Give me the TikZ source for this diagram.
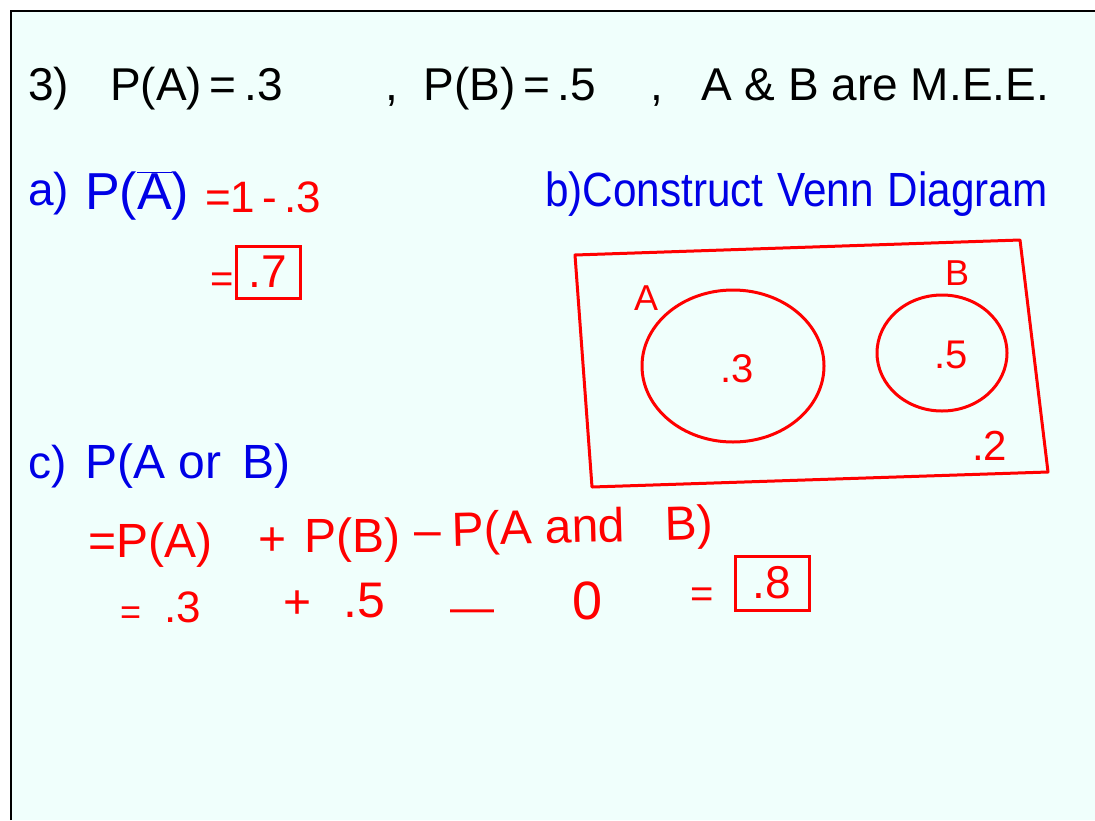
\documentclass[tikz,border=0pt]{standalone}
\usepackage{fontspec}
\setmainfont{Liberation Sans}
\begin{document}
\begin{tikzpicture}[x=1pt,y=-1pt,
  txt/.style={anchor=base west,inner sep=0pt,font=\fontsize{#1}{#1}\selectfont},
  blk/.style={txt=#1,text=black},
  blu/.style={txt=#1,text=penblue},
  rd/.style={txt=#1,text=inkred},
  redline/.style={draw=inkred,line width=3pt,line join=round,line cap=round},
  ansbox/.style={draw=inkred,line width=3pt,inner sep=4pt,text=inkred,font=\fontsize{46}{46}\selectfont,minimum width=64pt,minimum height=52pt}]
\definecolor{bg}{HTML}{F0FFFC}
\definecolor{inkred}{HTML}{FF0000}
\definecolor{penblue}{HTML}{0000E6}
\useasboundingbox (0,0) rectangle (1095,820);
\fill[white] (0,0) rectangle (1095,820);
\fill[bg] (11,11) rectangle (1095,820);
\draw[line width=2.5pt] (11,820) -- (11,11) -- (1095,11);
% title line
\node[blk=46] (t1) at (28,100) {3)};
\node[blk=46] (t2) at (110,100) {P(A)\,=\,.3};
\node[blk=46] (t3) at (385,100) {,\; P(B)\,=\,.5};
\node[blk=46] (t4) at (650,100) {,\;\; A \& B are M.E.E.};
% part a
\node[blu=46] (a1) at (28,205) {a)};
\node[blu=52] (a1b) at (85,209) {P($\overline{\hbox{A}}$)};
\node[rd=44] (a2) at (205,212) {=1\,-\,.3};
\node[rd=40] (a3) at (210,292) {=};
\node[ansbox] (a4) at (268,272) {.7};
% part b
\node[blu=48,xscale=0.88] (b1) at (545,206) {b)Construct\hspace{16pt}Venn\hspace{16pt}Diagram};
\draw[redline] (575,255) -- (1020,240) -- (1048,472) -- (592,487) -- cycle;
\draw[redline] (733,366) ellipse [x radius=91,y radius=76];
\draw[redline] (942,353) ellipse [x radius=65,y radius=58];
\node[rd=36] (bA) at (634,310) {A};
\node[rd=36] (bB) at (945,285) {B};
\node[rd=40] (b3) at (720,382) {.3};
\node[rd=40] (b5) at (934,368) {.5};
\node[rd=42] (b2) at (972,460) {.2};
% part c
\node[blu=46] (c0) at (28,478) {c)};
\node[blu=48] (c1) at (85,478) {P(A or\, B)};
\node[rd=48] (c2) at (88,557) {=P(A)};
\node[rd=48] (c3) at (258,555) {+};
\node[rd=48] (c3b) at (304,552) {P(B)};
\node[rd=48] (c3c) at (414,546) {--};
\node[rd=48,rotate=1.5] (c3d) at (452,546) {P(A and\;\; B)};
\node[rd=36] (c4) at (120,624) {=};
\node[rd=44] (c5) at (164,622) {.3};
\node[rd=48] (c6) at (283,618) {+};
\node[rd=50] (c7) at (343,617) {.5};
\node[rd=44] (c8) at (450,622) {---};
\node[rd=54] (c9) at (572,619) {0};
\node[rd=40] (c10) at (690,607) {=};
\node[ansbox,minimum width=74pt,minimum height=54pt] (c11) at (772,583) {.8};
\end{tikzpicture}
\end{document}
